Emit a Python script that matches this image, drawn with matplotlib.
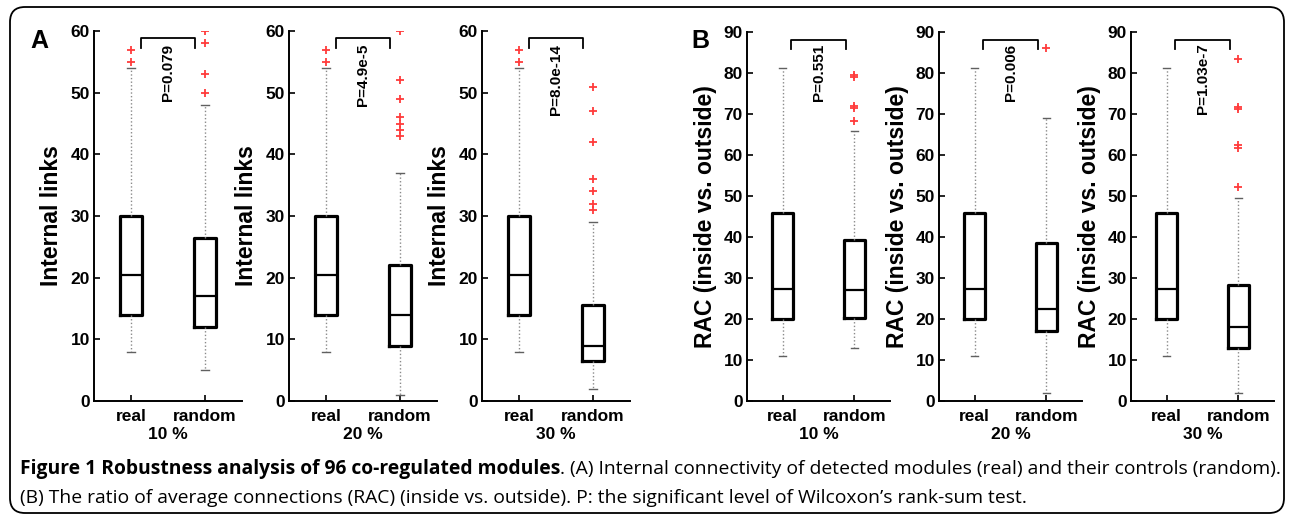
import matplotlib
matplotlib.use('Agg')
import matplotlib.pyplot as plt
from matplotlib.patches import FancyBboxPatch
from matplotlib import font_manager

# ---------------- data ----------------
groups = ['real', 'random']
pct_labels = ['10 %', '20 %', '30 %']

# Panel A: Internal links  (whislo, q1, median, q3, whishi)
a_real = [8, 14, 20.5, 30, 54]
a_real_out = [55, 57]
a_rand10 = [5, 12, 17, 26.5, 48]
a_rand10_out = [50, 53, 58, 60]
a_rand20 = [1, 9, 14, 22, 37]
a_rand20_out = [43, 44, 45, 46, 49, 52, 60]
a_rand30 = [2, 6.5, 9, 15.5, 29]
a_rand30_out = [31, 32, 34, 36, 42, 47, 51]
a_pvals = ['P=0.079', 'P=4.9e-5', 'P=8.0e-14']
a_yticks = [0, 10, 20, 30, 40, 50, 60]

# Panel B: RAC (inside vs. outside)
b_real = [11, 20.1, 27.4, 45.9, 81.3]
b_real_out = []
b_rand10 = [13, 20.3, 27, 39.3, 65.8]
b_rand10_out = [68.4, 71.4, 72.0, 79.0, 79.6]
b_rand20 = [2, 17, 22.5, 38.5, 69]
b_rand20_out = [86]
b_rand30 = [2, 13, 18, 28.3, 49.4]
b_rand30_out = [52.3, 61.8, 62.5, 71.3, 71.7, 83.5]
b_pvals = ['P=0.551', 'P=0.006', 'P=1.03e-7']
b_yticks = [0, 10, 20, 30, 40, 50, 60, 70, 80, 90]

caption_bold = 'Figure 1 Robustness analysis of 96 co-regulated modules'
caption_rest1 = '. (A) Internal connectivity of detected modules (real) and their controls (random).'
caption_line2 = ('(B) The ratio of average connections (RAC) (inside vs. outside). '
                 'P: the significant level of Wilcoxon\u2019s rank-sum test.')

# ---------------- setup ----------------
W, H = 1290, 516
plt.rcParams['font.family'] = ['Liberation Sans', 'DejaVu Sans']
fig = plt.figure(figsize=(W / 100, H / 100), dpi=100)

installed = {f.name for f in font_manager.fontManager.ttflist}
capfont = ['Open Sans', 'DejaVu Sans'] if 'Open Sans' in installed else ['Liberation Sans', 'DejaVu Sans']


def fx(px):
    return px / W


def fy(py):
    return 1 - py / H


def make_stats(v, out, label):
    return dict(whislo=v[0], q1=v[1], med=v[2], q3=v[3], whishi=v[4], fliers=out, label=label)


def draw_panel(left, width, top, bottom, real, real_out, rand, rand_out,
               ymax, yticks, ylabel, pval, xlabel, brk, ptop):
    ax = fig.add_axes([fx(left), fy(bottom), width / W, (bottom - top) / H])
    stats = [make_stats(real, real_out, groups[0]), make_stats(rand, rand_out, groups[1])]
    ax.bxp(stats, positions=[1, 2], widths=0.3, capwidths=0.1,
           boxprops=dict(color='black', linewidth=2.3),
           medianprops=dict(color='black', linewidth=1.6),
           whiskerprops=dict(color='#8a8a8a', linewidth=1.0, linestyle=(0, (1, 1.6))),
           capprops=dict(color='#606060', linewidth=1.0),
           flierprops=dict(marker='+', markeredgecolor='#ff3b3b', markersize=6,
                           markeredgewidth=1.3, linestyle='none'))
    ax.set_xlim(0.5, 2.5)
    ax.set_ylim(0, ymax)
    ax.set_yticks(yticks, labels=[str(v) for v in yticks], fontweight='bold', fontsize=12.5)
    ax.set_xticks([1, 2], labels=groups, fontweight='bold', fontsize=12.5)
    for s in ['top', 'right']:
        ax.spines[s].set_visible(False)
    for s in ['left', 'bottom']:
        ax.spines[s].set_linewidth(1.4)
    ax.tick_params(axis='y', direction='in', length=4, width=1.2, pad=3)
    ax.tick_params(axis='x', direction='in', length=4, width=1.2, pad=6)
    ax.set_xlabel(xlabel, fontsize=12.5, fontweight='bold', labelpad=2)
    ax.set_ylabel(ylabel, fontsize=16.5, fontweight='bold')
    ax.yaxis.set_label_coords(-0.21, 0.5)
    # significance bracket
    x1, x2, ylo, yhi = brk
    ax.plot([x1, x1, x2, x2], [ylo, yhi, yhi, ylo], color='black', linewidth=1.3,
            clip_on=False)
    ax.text(1.5, ptop, pval, rotation=90, ha='center', va='top', fontsize=11,
            fontweight='bold')
    return ax


a_rands = [(a_rand10, a_rand10_out), (a_rand20, a_rand20_out), (a_rand30, a_rand30_out)]
b_rands = [(b_rand10, b_rand10_out), (b_rand20, b_rand20_out), (b_rand30, b_rand30_out)]

a_lefts = [94, 289, 482]
b_lefts = [747, 939, 1131]

for i in range(3):
    draw_panel(a_lefts[i], 148, 31, 401, a_real, a_real_out, a_rands[i][0], a_rands[i][1],
               60, a_yticks, 'Internal links',
               a_pvals[i], pct_labels[i], (1.14, 1.87, 57.2, 58.9), 57.9)
    draw_panel(b_lefts[i], 143, 32, 401, b_real, b_real_out, b_rands[i][0], b_rands[i][1],
               90, b_yticks, 'RAC (inside vs. outside)',
               b_pvals[i], pct_labels[i], (1.12, 1.88, 85.8, 88.0), 87.2)

# panel letters
fig.text(fx(30), fy(48), 'A', fontsize=18, fontweight='bold', ha='left', va='baseline')
fig.text(fx(691), fy(48), 'B', fontsize=18, fontweight='bold', ha='left', va='baseline')

# outer rounded frame (in inches)
frame = FancyBboxPatch((0.10, 0.03), 12.74, 5.06,
                       boxstyle='round,pad=0,rounding_size=0.15',
                       transform=fig.dpi_scale_trans, fill=False,
                       edgecolor='black', linewidth=1.3)
fig.patches.append(frame)

# caption
fs = 13
t1 = fig.text(fx(20), fy(474), caption_bold, fontsize=fs, fontweight='bold',
              family=capfont, va='baseline')
t2 = fig.text(fx(400), fy(474), caption_rest1, fontsize=fs, family=capfont, va='baseline')
t3 = fig.text(fx(20), fy(503), caption_line2, fontsize=fs, family=capfont, va='baseline')
fig.canvas.draw()
r = fig.canvas.get_renderer()
w1 = t1.get_window_extent(r).width
w2 = t2.get_window_extent(r).width
scale = 1254 / (w1 + w2)
nfs = fs * scale
for t in (t1, t2, t3):
    t.set_fontsize(nfs)
fig.canvas.draw()
w1 = t1.get_window_extent(r).width
t2.set_x(fx(20 + w1))

fig.savefig('out.png', dpi=100)
